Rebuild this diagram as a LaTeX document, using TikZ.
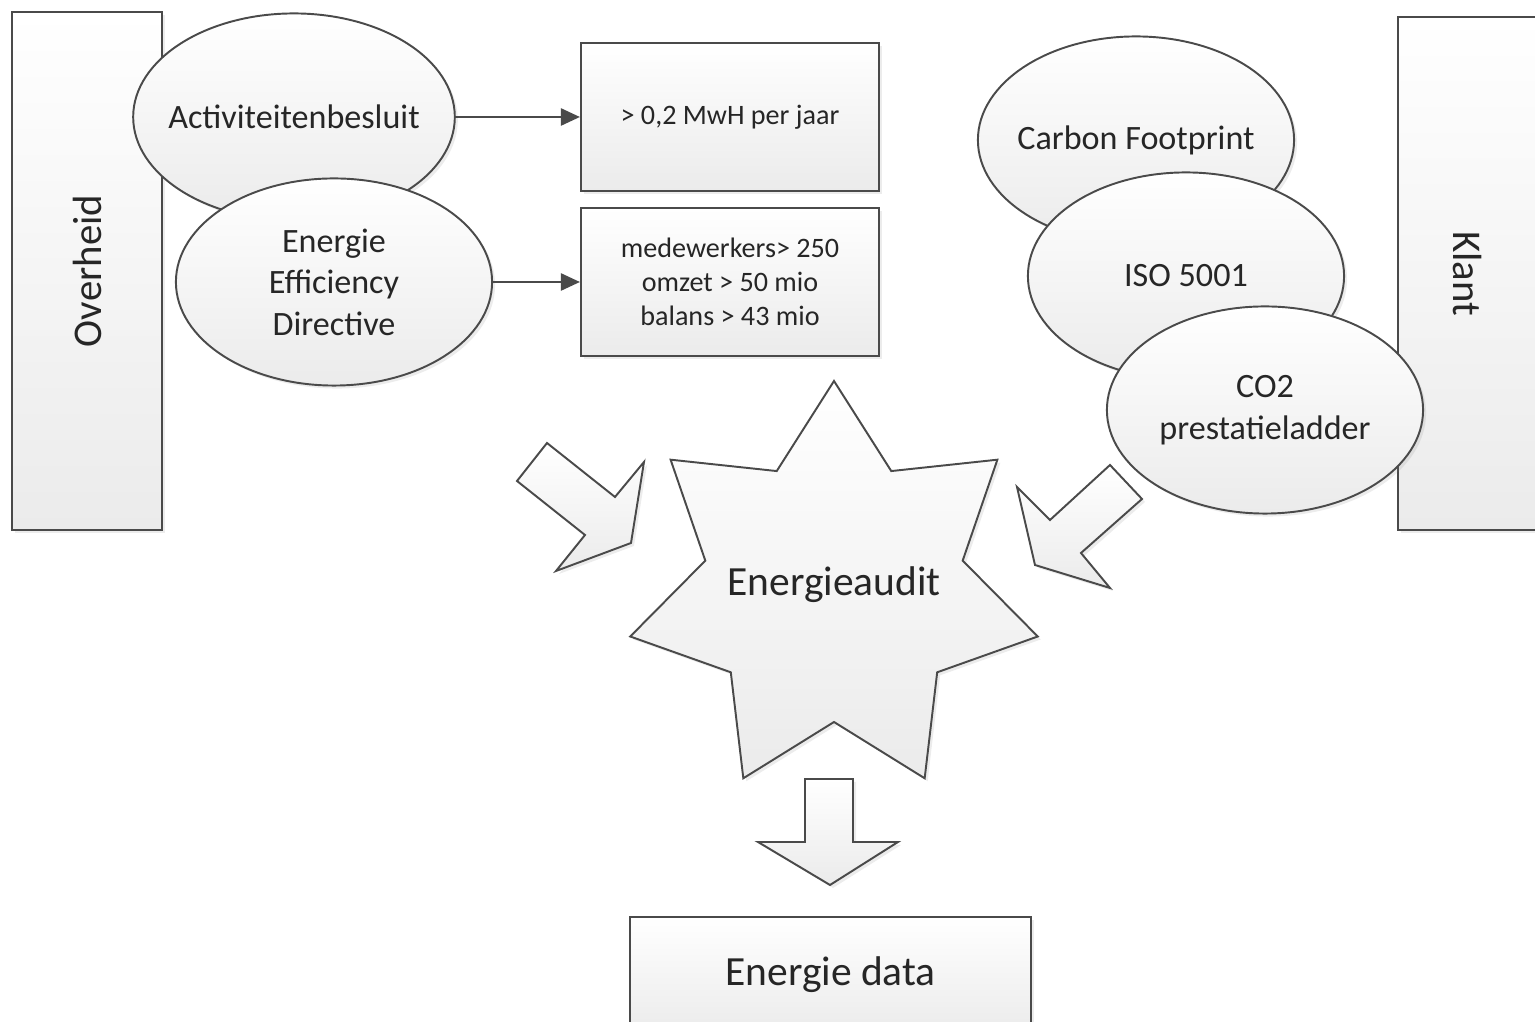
\documentclass[tikz,border=0pt]{standalone}
\usepackage{fontspec}
\setmainfont{Carlito}
\usepackage{xcolor}
\definecolor{colLine}{HTML}{4A4A4A}
\definecolor{colText}{HTML}{262626}
\definecolor{colShade}{HTML}{EBEBEB}
\usetikzlibrary{arrows.meta, shapes.geometric, shadows}

\tikzset{
  vis/.style={draw=colLine, line width=0.55pt, text=colText, inner sep=0pt,
    top color=white, bottom color=colShade,
    drop shadow={shadow xshift=0.03cm, shadow yshift=-0.03cm, opacity=0.15}},
  oval/.style={vis, ellipse, align=center, inner xsep=-0.12cm,
    minimum width=3.16cm, minimum height=2.07cm, font=\fontsize{9.7}{11.8}\selectfont},
  cond/.style={vis, rectangle, align=center, minimum width=2.98cm, minimum height=1.48cm,
    font=\fontsize{8}{9.7}\selectfont},
  actor/.style={vis, rectangle, minimum height=1.45cm, font=\fontsize{11.6}{14}\selectfont},
  bigtext/.style={font=\fontsize{11.8}{14}\selectfont},
  blockarrow/.style={draw=colLine, line width=0.55pt, top color=white, bottom color=colShade,
    drop shadow={shadow xshift=0.03cm, shadow yshift=-0.03cm, opacity=0.15}},
  link/.style={draw=colLine, line width=0.7pt, -{Triangle[length=0.19cm, width=0.17cm]}}
}

\begin{document}
\begin{tikzpicture}[x=0.01cm, y=-0.01cm]
  \useasboundingbox (0,0) rectangle (1535,1022);
  \clip (0,0) rectangle (1535,1022);

  % actoren links en rechts
  \node[actor, rotate=90, minimum width=5.18cm, minimum height=1.5cm] (overheid) at (87,271) {Overheid};
  \node[actor, rotate=-90, minimum width=5.13cm, minimum height=1.4cm] (klant) at (1468,273.5) {Klant};

  % wetgeving (overheid)
  \node[oval] (activ) at (294,117) {Activiteitenbesluit};
  \node[oval] (eed) at (334,282) {Energie\\Efficiency\\Directive};

  % drempels
  \node[cond] (drempel1) at (730,117) {> 0,2 MwH per jaar};
  \node[cond] (drempel2) at (730,282) {medewerkers> 250\\omzet > 50 mio\\balans > 43 mio};
  \draw[link] (activ) -- (drempel1);
  \draw[link] (eed) -- (drempel2);

  % eisen van de klant
  \node[oval] (carbon) at (1136,140) {Carbon Footprint};
  \node[oval] (iso) at (1186,276) {ISO 5001};
  \node[oval] (co2) at (1265,410) {CO2\\prestatieladder};

  % blokpijlen naar de audit
  \path[blockarrow] (547,443) -- (615,497) -- (644,462) -- (631,543)
    -- (556,571) -- (585,535) -- (517,481) -- cycle;
  \path[blockarrow] (1110,465) -- (1142,499) -- (1081,553) -- (1110,588)
    -- (1035,565) -- (1017,487) -- (1050,520) -- cycle;

  % energieaudit: ster met 7 punten
  \begin{scope}[shift={(834,590)}]
    \path[blockarrow] (-90:209)
      \foreach \k in {1,...,13} { -- ({-90+\k*180/7}:{ifthenelse(isodd(\k),132,209)}) } -- cycle;
  \end{scope}
  \node[bigtext, text=colText] (audit) at (834,585) {Energieaudit};

  % resultaat
  \path[blockarrow] (805,779) -- (853,779) -- (853,842) -- (898,842) -- (830,885)
    -- (758,842) -- (805,842) -- cycle;
  \node[vis, rectangle, minimum width=4.01cm, minimum height=1.16cm, bigtext]
    (data) at (830.5,975) {Energie data};
\end{tikzpicture}
\end{document}
